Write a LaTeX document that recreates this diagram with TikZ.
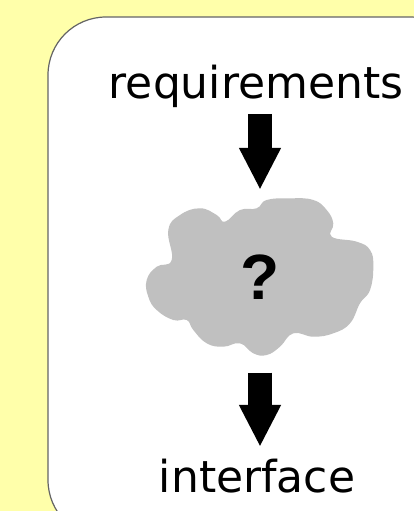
\documentclass[tikz,border=0pt]{standalone}
\usepackage{fontspec}
\setmainfont{DejaVu Sans}
\newfontfamily\qfont{Liberation Sans}
\usetikzlibrary{arrows.meta}
\definecolor{bgyellow}{HTML}{FFFFAA}
\definecolor{panelline}{RGB}{100,100,100}
\definecolor{cloudgray}{RGB}{192,192,192}
\tikzset{
  label text/.style={inner sep=0pt, anchor=base, font=\fontsize{44}{50}\selectfont},
  blockarrow/.style={line width=24pt, -{Triangle[length=42pt,width=39pt]}},
}
\begin{document}
\begin{tikzpicture}[x=1pt,y=-1pt]
\clip (0,0) rectangle (414,511);
\fill[bgyellow] (0,0) rectangle (414,511);
\draw[panelline, line width=1.2pt, fill=white, rounded corners=58pt] (48,17) rectangle (468,538);
% cloud
\fill[cloudgray] plot[smooth cycle, tension=0.75] coordinates {
 (171.7,260) (168.3,230) (180,215) (200,208.3) (216.7,215) (225,221.7)
 (240,210) (256.7,208.3) (266.7,200) (290,198.3) (313.3,200) (326.7,210)
 (333.3,223.3) (331.7,236.7) (356.7,241.7) (370,250) (373.3,266.7) (370,290)
 (360,303.3) (350,323.3) (333.3,333.3) (313.3,336.7) (293.3,333.3) (280,346.7)
 (266.7,355) (253.3,353.3) (240,343.3) (223.3,346.7) (206.7,343.3) (193.3,330)
 (186.7,320) (173.3,320) (156.7,310) (148.3,296.7) (146.7,280) (156.7,266.7)};
\node[inner sep=0pt, minimum width=228pt, minimum height=160pt,
      font=\qfont\bfseries\fontsize{64}{70}\selectfont] (cloud) at (260,277.5) {?};
\node[label text] (req) at (256,98) {requirements};
\node[label text] (iface) at (257,492) {interface};
\draw[blockarrow, shorten <=6.5pt, shorten >=7.5pt] (req.south -| cloud.center) -- (cloud.north);
\draw[blockarrow, shorten <=15pt, shorten >=11.5pt] (cloud.south) -- (iface.north -| cloud.center);
\end{tikzpicture}
\end{document}
